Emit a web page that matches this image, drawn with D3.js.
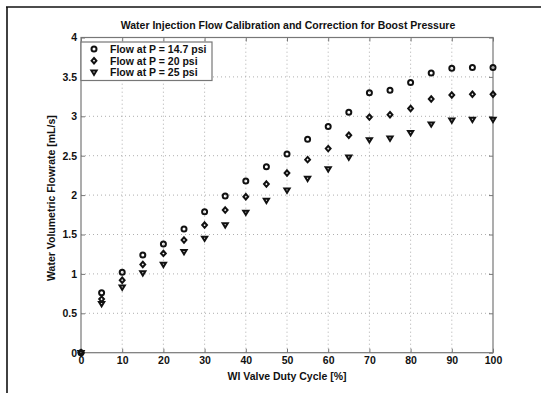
<!DOCTYPE html>
<html lang="en">
<head>
<meta charset="UTF-8">
<script src="https://d3js.org/d3.v7.min.js"></script>
<style>
  body { margin: 0; background: #fff; }
  svg text { font-family: "Liberation Sans", Arial, sans-serif; font-weight: bold; fill: #111; }
</style>
<title>Water Injection Flow Calibration</title>
</head>
<body>
<div id="chart"></div>
<script>
// duty cycle [%]
const duty = [0, 5, 10, 15, 20, 25, 30, 35, 40, 45, 50, 55, 60, 65, 70, 75, 80, 85, 90, 95, 100];
// flowrate [mL/s]
const flow147 = [0, 0.76, 1.02, 1.24, 1.38, 1.57, 1.79, 1.99, 2.18, 2.36, 2.52, 2.71, 2.87, 3.05, 3.30, 3.33, 3.43, 3.55, 3.61, 3.62, 3.62];
const flow20  = [0, 0.68, 0.92, 1.12, 1.26, 1.43, 1.62, 1.81, 1.98, 2.14, 2.28, 2.45, 2.59, 2.76, 2.99, 3.02, 3.10, 3.22, 3.27, 3.28, 3.28];
const flow25  = [0, 0.62, 0.83, 1.01, 1.12, 1.28, 1.45, 1.62, 1.78, 1.93, 2.06, 2.21, 2.33, 2.48, 2.70, 2.72, 2.79, 2.90, 2.95, 2.96, 2.96];
const seriesNames = ["Flow at P = 14.7 psi", "Flow at P = 20 psi", "Flow at P = 25 psi"];
const xTicks = [0, 10, 20, 30, 40, 50, 60, 70, 80, 90, 100];
const yTicks = [0, 0.5, 1, 1.5, 2, 2.5, 3, 3.5, 4];

const width = 541, height = 393;
const fs = "10.5px";
const svg = d3.select("#chart").append("svg")
    .attr("width", width).attr("height", height);

// scanned figure border (top + left only)
svg.append("line").attr("x1", 6).attr("x2", 541).attr("y1", 7).attr("y2", 7)
    .attr("stroke", "#111").attr("stroke-width", 1.6);
svg.append("line").attr("x1", 7).attr("x2", 7).attr("y1", 7).attr("y2", 393)
    .attr("stroke", "#111").attr("stroke-width", 1.6);

const x = d3.scaleLinear().domain([0, 100]).range([81, 493]);
const y = d3.scaleLinear().domain([0, 4]).range([352.7, 37.5]);

// grid
const grid = svg.append("g").attr("stroke", "#999").attr("stroke-width", 0.8)
    .attr("stroke-dasharray", "1,3");
grid.selectAll(".gx").data(xTicks.slice(1, -1)).join("line")
    .attr("x1", d => x(d)).attr("x2", d => x(d))
    .attr("y1", y(0)).attr("y2", y(4));
grid.selectAll(".gy").data(yTicks.slice(1, -1)).join("line")
    .attr("x1", x(0)).attr("x2", x(100))
    .attr("y1", d => y(d)).attr("y2", d => y(d));

// axes box
svg.append("rect").attr("x", x(0)).attr("y", y(4))
    .attr("width", x(100) - x(0)).attr("height", y(0) - y(4))
    .attr("fill", "none").attr("stroke", "#777").attr("stroke-width", 1.2);

const xAxis = svg.append("g").attr("transform", `translate(0,${y(0)})`)
    .call(d3.axisBottom(x).tickValues(xTicks).tickSize(-4).tickPadding(4).tickFormat(d3.format("d")));
const xAxisTop = svg.append("g").attr("transform", `translate(0,${y(4)})`)
    .call(d3.axisTop(x).tickValues(xTicks).tickSize(-4).tickFormat(""));
const yAxis = svg.append("g").attr("transform", `translate(${x(0)},0)`)
    .call(d3.axisLeft(y).tickValues(yTicks).tickSize(-4).tickPadding(4).tickFormat(d => d3.format("")(d)));
const yAxisRight = svg.append("g").attr("transform", `translate(${x(100)},0)`)
    .call(d3.axisRight(y).tickValues(yTicks).tickSize(-4).tickFormat(""));
[xAxis, xAxisTop, yAxis, yAxisRight].forEach(a => {
    a.select(".domain").remove();
    a.selectAll("line").attr("stroke", "#777");
    a.selectAll("text").style("font-size", fs).attr("fill", "#111");
});

// markers
const series = [flow147, flow20, flow25];
const symbols = [
    g => g.append("circle").attr("r", 2.5),
    g => g.append("path").attr("d", "M0,-2.7L2.4,0L0,2.7L-2.4,0Z"),
    g => g.append("path").attr("d", "M-2.6,-1.8L2.6,-1.8L0,2.5Z")
];
series.forEach((vals, i) => {
    const pts = svg.append("g")
        .selectAll("g").data(duty.map((d, j) => [d, vals[j]])).join("g")
        .attr("transform", d => `translate(${x(d[0])},${y(d[1])})`)
        .attr("fill", "none").attr("stroke", "#111").attr("stroke-width", 2);
    pts.each(function () { symbols[i](d3.select(this)); });
});

// title and labels
svg.append("text").attr("x", 288).attr("y", 29).attr("text-anchor", "middle")
    .style("font-size", fs).text("Water Injection Flow Calibration and Correction for Boost Pressure");
svg.append("text").attr("x", 287).attr("y", 380).attr("text-anchor", "middle")
    .style("font-size", fs).text("WI Valve Duty Cycle [%]");
svg.append("text").attr("transform", `translate(55,${(y(0) + y(4)) / 2 + 3}) rotate(-90)`)
    .attr("text-anchor", "middle").style("font-size", fs)
    .text("Water Volumetric Flowrate [mL/s]");

// legend
const legend = svg.append("g");
legend.append("rect").attr("x", 81).attr("y", 42).attr("width", 131).attr("height", 38.5)
    .attr("fill", "#fff").attr("stroke", "#777").attr("stroke-width", 1.2);
seriesNames.forEach((name, i) => {
    const row = legend.append("g").attr("transform", `translate(94,${49 + i * 11.7})`)
        .attr("fill", "none").attr("stroke", "#111").attr("stroke-width", 2);
    symbols[i](row);
    legend.append("text").attr("x", 110).attr("y", 49 + i * 11.7 + 3.8)
        .style("font-size", fs).text(name);
});
</script>
</body>
</html>
